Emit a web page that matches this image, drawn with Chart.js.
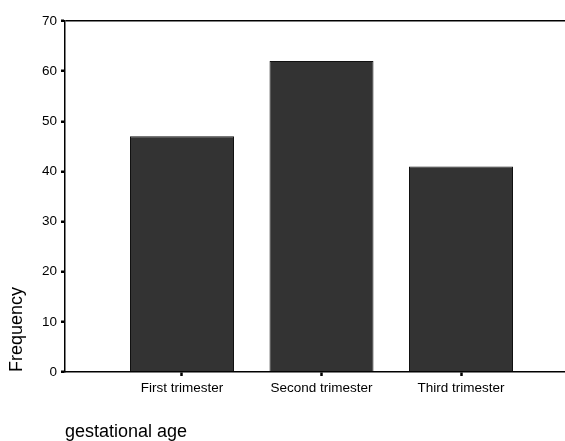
<!DOCTYPE html>
<html>
<head>
<meta charset="utf-8">
<script src="https://cdn.jsdelivr.net/npm/chart.js@4.4.0/dist/chart.umd.min.js"></script>
<style>
  body { margin: 0; background: #fff; }
  #wrap { width: 565px; height: 441px; }
</style>
</head>
<body>
<div id="wrap"><canvas id="freqChart" width="565" height="441"></canvas></div>
<script>
const categories = ["First trimester", "Second trimester", "Third trimester"];
const frequencies = [47, 62, 41];
const yTicks = [0, 10, 20, 30, 40, 50, 60, 70];

const fontFamily = "'Liberation Sans', Arial, Helvetica, sans-serif";
var freqChart;

function createFreqChart(canvaId) {
  const ctx = document.getElementById(canvaId).getContext("2d");
  // bars sit at 1..n on a linear axis so the plot can start left of the first bar
  const points = frequencies.map((v, i) => ({ x: i + 1, y: v }));
  if (freqChart != null) {
    freqChart.destroy();
  }
  freqChart = new Chart(ctx, {
    type: "bar",
    data: {
      datasets: [
        {
          label: "Frequency",
          data: points,
          backgroundColor: "#333333",
          borderColor: "#111111",
          borderWidth: 1,
          categoryPercentage: 1,
          barPercentage: 0.7455,
        },
      ],
    },
    options: {
      responsive: false,
      animation: false,
      layout: { padding: { top: 21, right: 0, left: 0, bottom: 0 } },
      plugins: {
        legend: { display: false },
        tooltip: { enabled: false },
      },
      scales: {
        x: {
          type: "linear",
          offset: false,
          min: 0.1613,
          max: 3.7455,
          afterBuildTicks: (axis) => {
            axis.ticks = categories.map((c, i) => ({ value: i + 1 }));
          },
          afterFit: (axis) => {
            axis.height = 69;
          },
          border: { display: true, color: "#000", width: 1.5 },
          grid: {
            offset: false,
            drawOnChartArea: false,
            drawTicks: true,
            tickLength: 4,
            tickWidth: 2.5,
            tickColor: "#000",
          },
          ticks: {
            color: "#000",
            padding: 4,
            maxRotation: 0,
            autoSkip: false,
            font: { family: fontFamily, size: 13.5 },
            callback: (value) => categories[value - 1] || "",
          },
          title: {
            display: true,
            text: "gestational age",
            align: "start",
            color: "#000",
            padding: 0,
            font: { family: fontFamily, size: 18, lineHeight: 1 },
          },
        },
        y: {
          min: 0,
          max: 70,
          afterBuildTicks: (axis) => {
            axis.ticks = yTicks.map((v) => ({ value: v }));
          },
          afterFit: (axis) => {
            axis.width = 65;
          },
          border: { display: true, color: "#000", width: 1.5 },
          grid: {
            drawOnChartArea: true,
            // only the top value gets a line: it closes the frame
            color: (c) => (c.tick && c.tick.value === 70 ? "#000" : "rgba(0,0,0,0)"),
            lineWidth: 1.5,
            drawTicks: true,
            tickLength: 4,
            tickWidth: 2.5,
            tickColor: "#000",
          },
          ticks: {
            color: "#000",
            padding: 4,
            font: { family: fontFamily, size: 13.5 },
          },
          title: {
            display: true,
            text: "Frequency",
            align: "start",
            color: "#000",
            padding: { top: 8, bottom: 0 },
            font: { family: fontFamily, size: 18, lineHeight: 1 },
          },
        },
      },
    },
  });
}

createFreqChart("freqChart");
</script>
</body>
</html>
